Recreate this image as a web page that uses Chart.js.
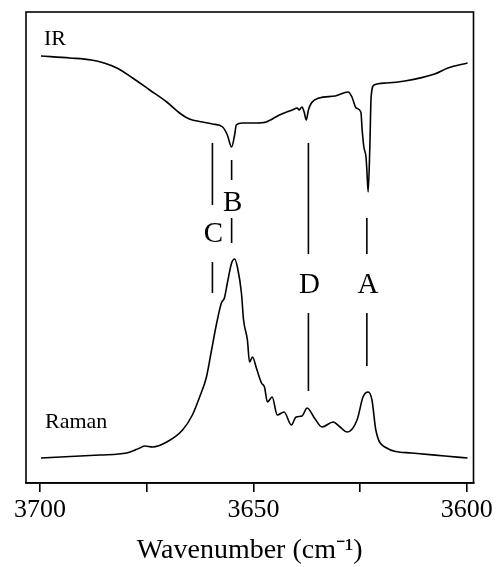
<!DOCTYPE html>
<html>
<head>
<meta charset="utf-8">
<script src="https://cdn.jsdelivr.net/npm/chart.js@4/dist/chart.umd.min.js"></script>
<style>
  html, body { margin: 0; padding: 0; background: #fff; }
  #wrap { width: 496px; height: 567px; position: relative; }
</style>
</head>
<body>
<div id="wrap"><canvas id="spectra"></canvas></div>
<script>
// IR spectrum (arbitrary units, higher = more transmittance)
const irWavenumber = [3699.8, 3693.0, 3688.0, 3685.0, 3682.0, 3678.3, 3674.3, 3670.3, 3667.3, 3665.0, 3661.9,
  3659.6, 3657.2, 3656.1, 3655.1, 3654.4, 3654.0, 3652.6, 3649.3, 3647.0, 3643.9,
  3640.9, 3639.7, 3639.3, 3638.6, 3638.1, 3637.6, 3637.1, 3636.4, 3634.6, 3630.8,
  3627.8, 3626.9, 3625.9, 3624.8, 3624.5, 3624.1, 3623.6, 3623.4, 3623.1, 3622.7,
  3622.4, 3621.7, 3618.9, 3614.5, 3607.5, 3604.4, 3599.8]
const irIntensity = [427, 425, 423, 420, 415, 405, 393, 381, 370, 364, 361,
  359, 356, 348, 336, 348, 358, 360, 360, 361, 368,
  373, 375, 373, 376, 371, 363, 373, 380, 385, 387,
  391, 386, 375, 371, 353, 336, 326, 313, 291, 336,
  386, 398, 400, 402, 409, 415, 420]

// Raman spectrum (arbitrary units)
const ramanWavenumber = [3699.8, 3686.0, 3679.7, 3676.6, 3675.5, 3673.6, 3670.3, 3666.6, 3664.3, 3662.6,
  3661.0, 3659.8, 3658.6, 3657.5, 3656.8, 3656.1, 3655.1, 3654.4, 3653.7, 3652.8,
  3652.3, 3651.4, 3650.9, 3650.2, 3649.3, 3648.1, 3647.4, 3646.7, 3645.6, 3644.4,
  3642.8, 3641.1, 3640.0, 3638.6, 3637.4, 3635.7, 3633.9, 3631.3, 3629.7, 3628.0,
  3625.7, 3624.3, 3623.1, 3622.2, 3621.3, 3619.2, 3612.9, 3605.1, 3599.8]
const ramanIntensity = [25, 28, 30, 35, 37, 36, 41, 53, 68, 86,
  106, 133, 160, 180, 185, 200, 220, 224, 215, 190,
  163, 143, 121, 126, 115, 100, 96, 81, 86, 68,
  71, 58, 66, 67, 75, 65, 56, 61, 56, 51,
  63, 86, 91, 83, 53, 36, 30, 27, 25]

// band markers: name, position, upper segment [top, bottom], lower segment [top, bottom], label height
const bandNames = ["A", "B", "C", "D"]
const bandWavenumber = [3623.4, 3655.1, 3659.6, 3637.1]
const bandUpper = [[265, 229], [323, 303], [340, 278], [340, 229]]
const bandLower = [[170, 117], [265, 240], [221, 190], [170, 92]]
const bandLabelY = [199, 281, 250, 199]

const tickValues = [3700, 3675, 3650, 3625, 3600]
const tickLabels = ["3700", "", "3650", "", "3600"]

const SERIF = "'Liberation Serif', 'Times New Roman', serif"

function toPoints(xs, ys) {
  return xs.map((x, i) => ({ x: x, y: ys[i] }))
}

const datasets = [
  { label: "IR", data: toPoints(irWavenumber, irIntensity), cubicInterpolationMode: "monotone" },
  { label: "Raman", data: toPoints(ramanWavenumber, ramanIntensity), cubicInterpolationMode: "monotone" },
]
bandNames.forEach((name, i) => {
  datasets.push({ label: name + " upper", data: bandUpper[i].map((y) => ({ x: bandWavenumber[i], y: y })) })
  datasets.push({ label: name + " lower", data: bandLower[i].map((y) => ({ x: bandWavenumber[i], y: y })) })
})
datasets.forEach((ds) => {
  ds.borderColor = "#000"
  ds.borderWidth = 1.6
  ds.pointRadius = 0
  ds.showLine = true
  ds.fill = false
  if (!ds.cubicInterpolationMode) ds.tension = 0
})

// frame + text labels
const decorations = {
  id: "decorations",
  afterDatasetsDraw(chart) {
    const { ctx, chartArea, scales } = chart
    ctx.save()
    ctx.strokeStyle = "#000"
    ctx.lineWidth = 1.6
    ctx.strokeRect(chartArea.left, chartArea.top, chartArea.right - chartArea.left, chartArea.bottom - chartArea.top)

    ctx.fillStyle = "#000"
    ctx.textAlign = "left"
    ctx.textBaseline = "alphabetic"
    ctx.font = "22px " + SERIF
    ctx.fillText("IR", 44, 45)
    ctx.fillText("Raman", 45, 428)

    ctx.font = "29px " + SERIF
    ctx.textAlign = "center"
    ctx.textBaseline = "middle"
    bandNames.forEach((name, i) => {
      ctx.fillText(name, scales.x.getPixelForValue(bandWavenumber[i]) + 1, scales.y.getPixelForValue(bandLabelY[i]) + 1)
    })
    ctx.restore()
  },
}

new Chart(document.getElementById("spectra"), {
  type: "scatter",
  data: { datasets: datasets },
  options: {
    responsive: true,
    maintainAspectRatio: false,
    animation: false,
    layout: { padding: { left: 26, right: 21, top: 12, bottom: 0 } },
    plugins: { legend: { display: false }, tooltip: { enabled: false } },
    scales: {
      x: {
        type: "linear",
        reverse: true,
        min: 3598.4,
        max: 3703.3,
        afterBuildTicks: (scale) => {
          scale.ticks = tickValues.map((v) => ({ value: v }))
        },
        afterFit: (scale) => {
          scale.height = 84
        },
        grid: { drawOnChartArea: false, drawTicks: true, tickLength: 9, color: "#000", lineWidth: 1.6 },
        border: { display: true, color: "#000", width: 1.6 },
        ticks: {
          color: "#000",
          padding: 3,
          maxRotation: 0,
          autoSkip: false,
          font: { family: SERIF, size: 26 },
          callback: (value) => {
            const i = tickValues.indexOf(value)
            return i >= 0 ? tickLabels[i] : ""
          },
        },
        title: {
          display: true,
          text: "Wavenumber (cm\u207B\u00B9)",
          color: "#000",
          font: { family: SERIF, size: 28 },
          padding: { top: 0, bottom: 0 },
        },
      },
      y: {
        type: "linear",
        display: false,
        min: 0,
        max: 471,
      },
    },
  },
  plugins: [decorations],
})
</script>
</body>
</html>
